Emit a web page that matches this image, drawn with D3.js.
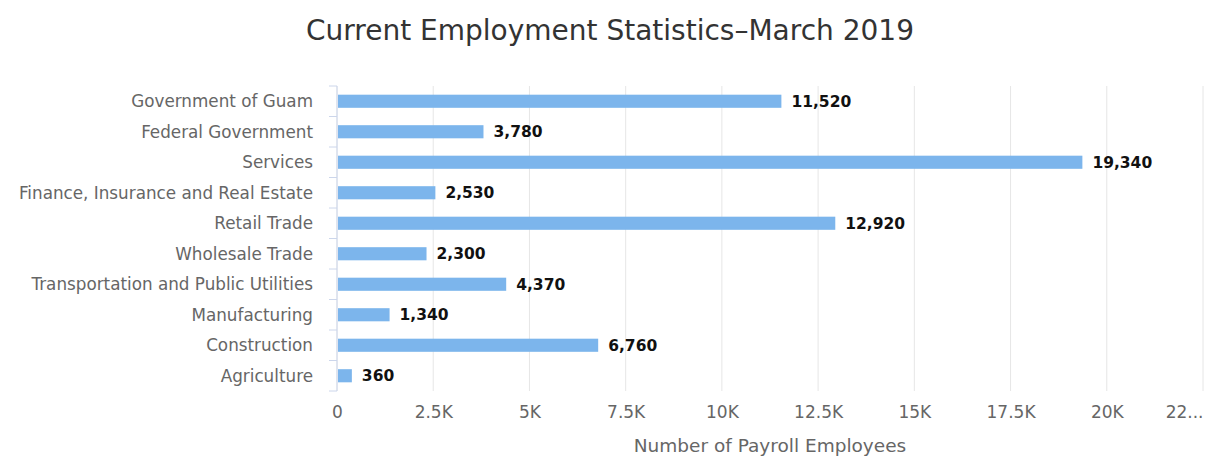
<!DOCTYPE html>
<html>
<head>
<meta charset="utf-8">
<script src="https://cdn.jsdelivr.net/npm/d3@7"></script>
<style>
  body { margin: 0; background: #fff; }
  text { font-family: "DejaVu Sans", sans-serif; }
</style>
</head>
<body>
<div id="wrap"></div>
<script>
var categories = ["Government of Guam", "Federal Government", "Services",
  "Finance, Insurance and Real Estate", "Retail Trade", "Wholesale Trade",
  "Transportation and Public Utilities", "Manufacturing", "Construction", "Agriculture"];
var employees = [11520, 3780, 19340, 2530, 12920, 2300, 4370, 1340, 6760, 360];
var tickValues = [0, 2500, 5000, 7500, 10000, 12500, 15000, 17500, 20000, 22500];
var tickLabels = ["0", "2.5K", "5K", "7.5K", "10K", "12.5K", "15K", "17.5K", "20K", "22..."];

var w = 1208, h = 457;
var plotLeft = 337, plotRight = 1203, plotTop = 86, plotBottom = 391;

var svg = d3.select("#wrap").append("svg").attr("width", w).attr("height", h);

var x = d3.scaleLinear().domain([0, 22500]).range([plotLeft, plotRight]);
var y = d3.scaleBand().domain(categories).range([plotTop, plotBottom]).paddingInner(0.57).paddingOuter(0.285);
var band = d3.scaleBand().domain(categories).range([plotTop, plotBottom]);

// title
svg.append("text").attr("x", 610).attr("y", 40).attr("text-anchor", "middle")
  .attr("font-size", 28).attr("fill", "#333").text("Current Employment Statistics–March 2019");

// grid
svg.append("g").selectAll("line").data(tickValues).enter().append("line")
  .attr("x1", function(d) { return x(d); }).attr("x2", function(d) { return x(d); })
  .attr("y1", plotTop).attr("y2", plotBottom)
  .attr("stroke", "#e6e6e6").attr("stroke-width", 1);

// x axis labels
var xAxis = d3.axisBottom(x).tickValues(tickValues)
  .tickFormat(function(d, i) { return tickLabels[i]; }).tickSize(0).tickPadding(15);
var gx = svg.append("g").attr("transform", "translate(0," + plotBottom + ")").call(xAxis);
gx.select(".domain").remove();
gx.selectAll("text").attr("font-size", 17).attr("fill", "#666").attr("font-family", "DejaVu Sans, sans-serif");
gx.selectAll("text").filter(function(d) { return d === 22500; }).attr("text-anchor", "end");

svg.append("text").attr("x", (plotLeft + plotRight) / 2).attr("y", 452).attr("text-anchor", "middle")
  .attr("font-size", 18.5).attr("fill", "#666").text("Number of Payroll Employees");

// y axis line and ticks on band edges
svg.append("line").attr("x1", plotLeft).attr("x2", plotLeft).attr("y1", plotTop).attr("y2", plotBottom)
  .attr("stroke", "#ccd6eb");
var edges = categories.map(function(c) { return band(c); }).concat([plotBottom]);
svg.append("g").selectAll("line").data(edges).enter().append("line")
  .attr("x1", plotLeft - 8).attr("x2", plotLeft).attr("y1", function(d) { return d; }).attr("y2", function(d) { return d; })
  .attr("stroke", "#ccd6eb");

svg.append("g").selectAll("text").data(categories).enter().append("text")
  .attr("x", 313).attr("y", function(d) { return band(d) + band.bandwidth() / 2; })
  .attr("dy", "0.35em").attr("text-anchor", "end")
  .attr("font-size", 16.8).attr("fill", "#666").text(function(d) { return d; });

// bars
svg.append("g").selectAll("rect").data(employees).enter().append("rect")
  .attr("x", x(0) + 1)
  .attr("y", function(d, i) { return y(categories[i]); })
  .attr("width", function(d) { return x(d) - x(0); })
  .attr("height", y.bandwidth())
  .attr("fill", "#7cb5ec");

// data labels
svg.append("g").selectAll("text").data(employees).enter().append("text")
  .attr("x", function(d) { return x(d) + 11; })
  .attr("y", function(d, i) { return band(categories[i]) + band.bandwidth() / 2; })
  .attr("dy", "0.35em")
  .attr("font-size", 15.5).attr("font-weight", "bold").attr("fill", "#111")
  .text(function(d) { return d3.format(",")(d); });
</script>
</body>
</html>
